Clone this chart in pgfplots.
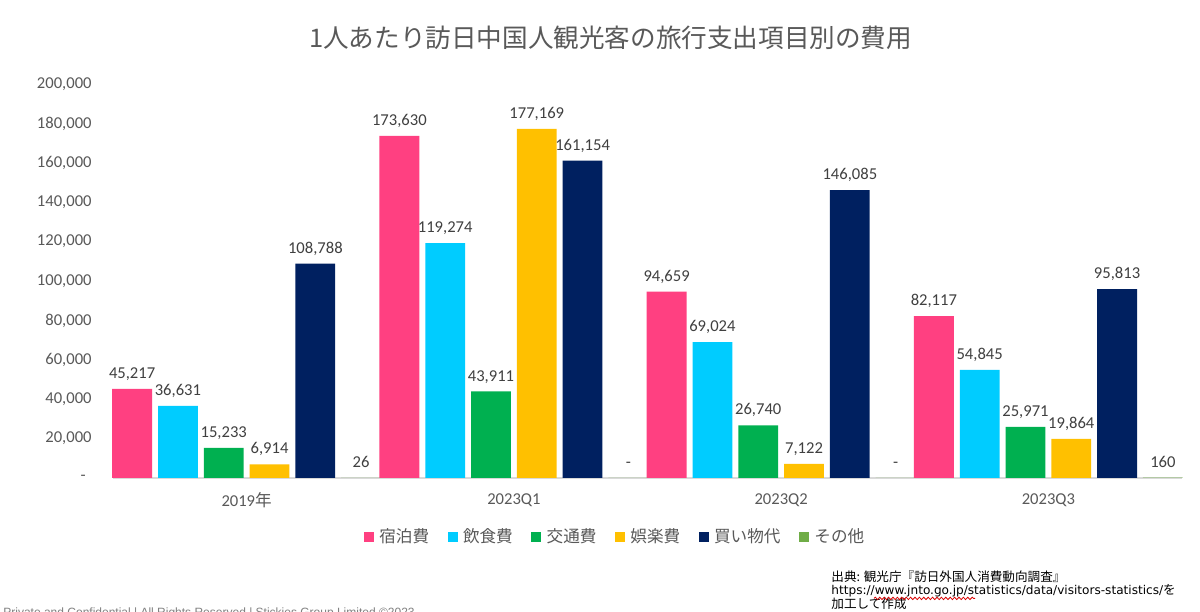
\documentclass[border=0pt]{standalone}
\usepackage{fontspec}
\setmainfont{Carlito}
\newfontfamily\jp{Noto Sans CJK JP}
\newfontfamily\dv{DejaVu Sans}
\newfontfamily\ls{Liberation Sans}
\usepackage{pgfplots}
\pgfplotsset{compat=1.18}
\usepackage{pgfplotstable}
\usetikzlibrary{decorations.pathmorphing}

\definecolor{cPink}{HTML}{FF4081}
\definecolor{cCyan}{HTML}{00CCFF}
\definecolor{cGreen}{HTML}{00B050}
\definecolor{cYellow}{HTML}{FFC000}
\definecolor{cNavy}{HTML}{002060}
\definecolor{cOther}{HTML}{70AD47}
\definecolor{tgray}{HTML}{595959}
\definecolor{lgray}{HTML}{404040}
\definecolor{axgray}{HTML}{D9D9D9}

\pgfplotsset{sq/.style={legend image code/.code={\fill[##1] (0bp,-2.5bp) rectangle (5bp,2.5bp);}}}

% 宿泊費
\pgfplotstableread{
x y lab
0 45217 45,217
1 173630 173,630
2 94659 94,659
3 82117 82,117
}\tabA
% 飲食費
\pgfplotstableread{
x y lab
0 36631 36,631
1 119274 119,274
2 69024 69,024
3 54845 54,845
}\tabB
% 交通費
\pgfplotstableread{
x y lab
0 15233 15,233
1 43911 43,911
2 26740 26,740
3 25971 25,971
}\tabC
% 娯楽費
\pgfplotstableread{
x y lab
0 6914 6,914
1 177169 177,169
2 7122 7,122
3 19864 19,864
}\tabD
% 買い物代
\pgfplotstableread{
x y lab
0 108788 108,788
1 161154 161,154
2 146085 146,085
3 95813 95,813
}\tabE
% その他
\pgfplotstableread{
x y lab
0 26 26
1 0 -
2 0 -
3 160 160
}\tabF

\begin{document}
\begin{tikzpicture}
\useasboundingbox (0,0) rectangle (600bp,306bp);
\fill[white] (0,0) rectangle (600bp,306bp);
\node[font=\jp\fontsize{12.8bp}{15bp}\selectfont, text=tgray] at (305.25bp,287bp) {1人あたり訪日中国人観光客の旅行支出項目別の費用};
\begin{axis}[
  at={(56.5bp,67bp)}, anchor=south west, scale only axis,
  width=534.5bp, height=197bp,
  xmin=-0.5, xmax=3.5, ymin=0, ymax=200000,
  axis line style={draw=none}, major tick length=0pt,
  xtick={0,1,2,3},
  xticklabels={2019{\jp 年},2023Q1,2023Q2,2023Q3},
  ytick={0,20000,40000,60000,80000,100000,120000,140000,160000,180000,200000},
  yticklabels={{-\hspace*{3bp}},{20,000},{40,000},{60,000},{80,000},{100,000},{120,000},{140,000},{160,000},{180,000},{200,000}},
  scaled y ticks=false,
  ticklabel style={font=\fontsize{8.3bp}{10bp}\selectfont, text=tgray},
  yticklabel style={anchor=east, inner sep=0pt, xshift=-10.5bp},
  xticklabel style={anchor=center, inner sep=0pt, yshift=-11bp},
  ybar, bar width=0.149,
  point meta=explicit symbolic,
  nodes near coords={\pgfplotspointmeta},
  nodes near coords style={font=\fontsize{8.3bp}{10bp}\selectfont, text=lgray, anchor=base, inner sep=0pt, yshift=5.2bp},
  legend columns=6,
  legend style={at={(0.4687,-0.1497)}, anchor=center, draw=none, fill=none,
    font=\jp\fontsize{8.3bp}{10bp}\selectfont, text=tgray,
    nodes={inner sep=0pt},
    /tikz/every odd column/.append style={column sep=2.75bp},
    /tikz/every even column/.append style={column sep=9.2bp}},
  clip=false,
]
\draw[axgray, line width=0.75bp] (axis cs:-0.5,0) -- (axis cs:3.5,0);
\addplot[fill=cPink, draw=none, bar shift=-0.4285, sq] table[x=x,y=y,meta=lab]{\tabA};
\addplot[fill=cCyan, draw=none, bar shift=-0.2571, sq] table[x=x,y=y,meta=lab]{\tabB};
\addplot[fill=cGreen, draw=none, bar shift=-0.0857, sq] table[x=x,y=y,meta=lab]{\tabC};
\addplot[fill=cYellow, draw=none, bar shift=0.0857, sq] table[x=x,y=y,meta=lab]{\tabD};
\addplot[fill=cNavy, draw=none, bar shift=0.2571, sq] table[x=x,y=y,meta=lab]{\tabE};
\addplot[fill=cOther, draw=none, bar shift=0.4285, sq] table[x=x,y=y,meta=lab]{\tabF};
\legend{宿泊費,飲食費,交通費,娯楽費,買い物代,その他}
\end{axis}
\node[anchor=base west, inner sep=0pt, font=\jp\fontsize{6.3bp}{7bp}\selectfont] at (415.5bp,15.5bp) {出典: 観光庁『訪日外国人消費動向調査』};
\node[anchor=base west, inner sep=0pt, font=\dv\fontsize{6.05bp}{7bp}\selectfont] at (415.5bp,8.6bp) {https://www.jnto.go.jp/statistics/data/visitors-statistics/{\jp\fontsize{6.3bp}{7bp}\selectfont を}};
\node[anchor=base west, inner sep=0pt, font=\jp\fontsize{6.3bp}{7bp}\selectfont] at (415.5bp,1.75bp) {加工して作成};
\draw[red!85!black, line width=0.4bp, decorate, decoration={snake, amplitude=0.6bp, segment length=2.2bp}] (437bp,6.8bp) -- (487.5bp,6.8bp);
\node[anchor=base west, inner sep=0pt, font=\ls\fontsize{6bp}{7bp}\selectfont, text=gray] at (1.5bp,-2.4bp) {Private and Confidential | All Rights Reserved | Stickies Group Limited ©2023};
\end{tikzpicture}
\end{document}
